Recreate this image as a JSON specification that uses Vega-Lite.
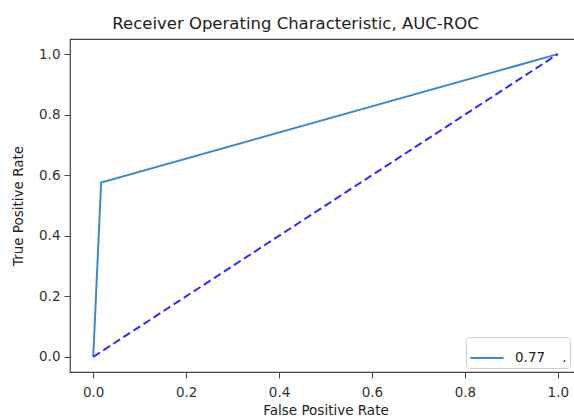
{
  "$schema": "https://vega.github.io/schema/vega-lite/v6.json",
  "width": 511,
  "height": 333,
  "autosize": {"type": "none"},
  "padding": {"left": 70, "top": 39, "right": 0, "bottom": 47},
  "background": "white",
  "title": {
    "text": "Receiver Operating Characteristic, AUC-ROC",
    "font": "DejaVu Sans",
    "fontSize": 16.5,
    "fontWeight": "normal",
    "color": "#222222",
    "anchor": "middle",
    "dx": -30,
    "offset": 7
  },
  "config": {
    "view": {"stroke": "#444444", "strokeWidth": 1.2},
    "axis": {
      "grid": false,
      "domain": false,
      "labelFont": "DejaVu Sans",
      "labelFontSize": 13.5,
      "labelColor": "#333333",
      "titleFont": "DejaVu Sans",
      "titleFontSize": 13.5,
      "titleFontWeight": "normal",
      "titleColor": "#222222",
      "tickColor": "#444444",
      "tickSize": 6,
      "tickWidth": 1
    }
  },
  "datasets": {
    "roc": [
      {"fpr": 0.0, "tpr": 0.0, "series": "0.77\u00a0\u00a0\u00a0\u00a0."},
      {"fpr": 0.017, "tpr": 0.576, "series": "0.77\u00a0\u00a0\u00a0\u00a0."},
      {"fpr": 1.0, "tpr": 1.0, "series": "0.77\u00a0\u00a0\u00a0\u00a0."}
    ],
    "diag": [
      {"fpr": 0.0, "tpr": 0.0},
      {"fpr": 1.0, "tpr": 1.0}
    ]
  },
  "layer": [
    {
      "data": {"name": "roc"},
      "mark": {"type": "line", "strokeWidth": 2},
      "encoding": {
        "x": {
          "field": "fpr", "type": "quantitative",
          "scale": {"domain": [-0.05, 1.05], "nice": false, "zero": false},
          "axis": {"values": [0, 0.2, 0.4, 0.6, 0.8, 1.0], "format": ".1f", "title": "False Positive Rate", "labelPadding": 7, "titlePadding": 5}
        },
        "y": {
          "field": "tpr", "type": "quantitative",
          "scale": {"domain": [-0.05, 1.05], "nice": false, "zero": false},
          "axis": {"values": [0, 0.2, 0.4, 0.6, 0.8, 1.0], "format": ".1f", "title": "True Positive Rate", "labelPadding": 4, "titlePadding": 13}
        },
        "color": {
          "field": "series", "type": "nominal",
          "scale": {"range": ["#3f8ac4"]},
          "legend": {
            "title": null,
            "orient": "none",
            "legendX": 396,
            "legendY": 298,
            "symbolType": "stroke",
            "symbolSize": 1100,
            "symbolStrokeWidth": 2,
            "labelFont": "DejaVu Sans",
            "labelFontSize": 13.5,
            "labelColor": "#222222",
            "labelOffset": 10,
            "fillColor": "white",
            "strokeColor": "#d0d0d0",
            "cornerRadius": 3,
            "padding": 3
          }
        }
      }
    },
    {
      "data": {"name": "diag"},
      "mark": {"type": "line", "strokeWidth": 2, "color": "#2b2bff", "strokeDash": [8, 4]},
      "encoding": {
        "x": {"field": "fpr", "type": "quantitative"},
        "y": {"field": "tpr", "type": "quantitative"}
      }
    }
  ]
}
